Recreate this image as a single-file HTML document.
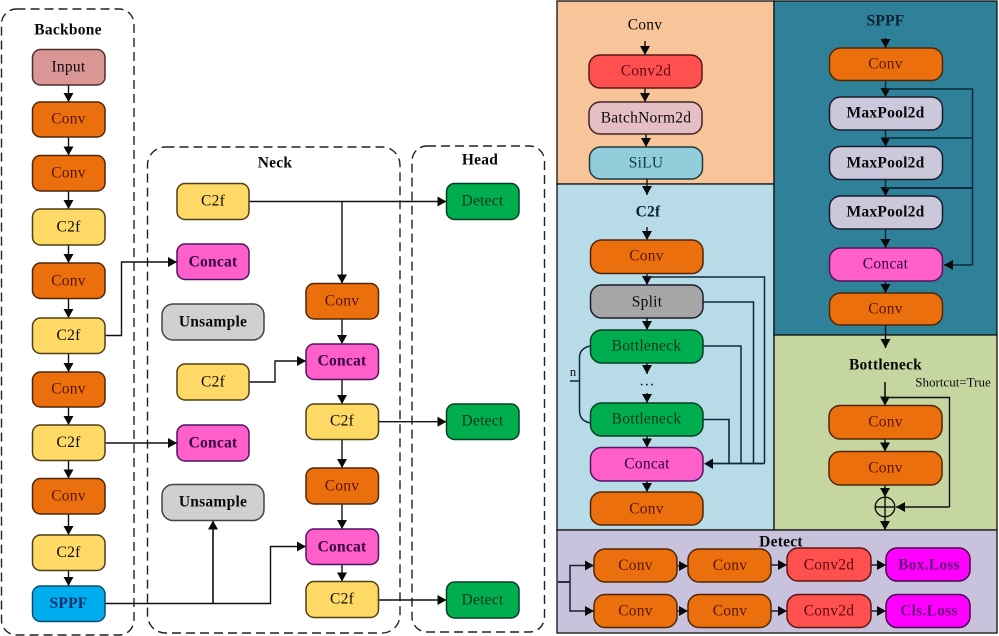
<!DOCTYPE html>
<html><head><meta charset="utf-8"><style>
html,body{margin:0;padding:0;background:#fff;width:999px;height:636px;overflow:hidden}
svg{display:block}
text{font-family:"Liberation Serif",serif;font-size:15.5px;letter-spacing:.25px;text-anchor:middle;dominant-baseline:central;fill:#0a0a0a}
.b{font-weight:bold}
.box{stroke-width:1.5}
.o{fill:#EC6F0E;stroke:#4f2606}.y{fill:#FFD966;stroke:#4f3f14}.p{fill:#FF5FCB;stroke:#4f1460}.g{fill:#D0D0D0;stroke:#444}
.gr{fill:#00AD4F;stroke:#053f23}.r{fill:#FF5050;stroke:#5c1616}.m{fill:#CCC8DC;stroke:#1b1b2b}.mg{fill:#FF00FF;stroke:#470050}
.to{fill:#5a1400}.tp{fill:#35003e}.tg{fill:#033619}.tr{fill:#620810}
.d{fill:none;stroke:#222;stroke-width:1.4;stroke-dasharray:9 5}
.l{fill:none;stroke:#111;stroke-width:1.4}
.a{marker-end:url(#ar)}
.dk{fill:none;stroke:#0c2a3c;stroke-width:1.5}
</style></head><body>
<svg width="999" height="636" viewBox="0 0 999 636" xmlns="http://www.w3.org/2000/svg">
<defs><marker id="ar" markerUnits="userSpaceOnUse" markerWidth="10" markerHeight="11" refX="9" refY="5" orient="auto"><path d="M0 0L9 5L0 10Z" fill="#0a0a0a"/></marker></defs>

<!-- dashed groups -->
<rect class="d" x="1.5" y="9" width="132.5" height="626" rx="15"/>
<rect class="d" x="147.5" y="147" width="252.5" height="486" rx="18"/>
<rect class="d" x="412" y="146" width="132.5" height="486" rx="15"/>

<!-- left connectors -->
<g class="l">
<path class="a" d="M68.5 85V102"/><path class="a" d="M68.5 137V155.5"/><path class="a" d="M68.5 191V209"/><path class="a" d="M68.5 245V263"/><path class="a" d="M68.5 298.500V318"/><path class="a" d="M68.5 353.500V372"/><path class="a" d="M68.500 407V425"/><path class="a" d="M68.500 460.500V478.500"/><path class="a" d="M68.500 514V535"/><path class="a" d="M68.500 570.500V586"/>
<path class="a" d="M105 335.500H121.500V262H177"/><path class="a" d="M105 443H177"/>
<path class="a" d="M105 603.500H270.500V546.500H306"/><path class="a" d="M213 603.500V520.500" stroke-width="1.6"/>
<path class="a" d="M249 201.500H446.500"/><path class="a" d="M342 201.500V283.500"/>
<path class="a" d="M342 319V344"/><path class="a" d="M249 382H275V361H306"/>
<path class="a" d="M342 379.500V404"/><path class="a" d="M378.500 421.700H446.500"/>
<path class="a" d="M342 439.500V468"/><path class="a" d="M342 504V529"/><path class="a" d="M342 564.500V581.500"/>
<path class="a" d="M378.500 600H446.500"/>
</g>

<!-- backbone nodes -->
<g class="box">
<rect x="32.500" y="49.500" width="72.500" height="35.500" rx="8" fill="#D99694" stroke="#4f2d2b"/>
<rect class="o" x="32.500" y="102" width="72.500" height="35" rx="8"/>
<rect class="o" x="32.500" y="155.500" width="72.500" height="35.500" rx="8"/>
<rect class="y" x="32.500" y="209" width="72.500" height="36" rx="8"/>
<rect class="o" x="32.500" y="263" width="72.500" height="35.500" rx="8"/>
<rect class="y" x="32.500" y="318" width="72.500" height="35.500" rx="8"/>
<rect class="o" x="32.500" y="372" width="72.500" height="35" rx="8"/>
<rect class="y" x="32.500" y="425" width="72.500" height="35.500" rx="8"/>
<rect class="o" x="32.500" y="478.500" width="72.500" height="35.500" rx="8"/>
<rect class="y" x="32.500" y="535" width="72.500" height="35.500" rx="8"/>
<rect x="32.500" y="586" width="72.500" height="35.500" rx="8" fill="#00AEEF" stroke="#0a4d73"/>
<!-- neck -->
<rect class="y" x="177" y="183.500" width="72" height="36" rx="8"/>
<rect class="p" x="177" y="244" width="72" height="35.500" rx="8"/>
<rect class="g" x="162" y="304" width="102" height="36" rx="11"/>
<rect class="y" x="177" y="364" width="72" height="36" rx="8"/>
<rect class="p" x="177" y="425" width="72" height="36" rx="8"/>
<rect class="g" x="162" y="484.500" width="102" height="36" rx="11"/>
<rect class="o" x="306" y="283.500" width="72.500" height="35.500" rx="8"/>
<rect class="p" x="306" y="344" width="72.500" height="35.500" rx="8"/>
<rect class="y" x="306" y="404" width="72.500" height="35.500" rx="8"/>
<rect class="o" x="306" y="468" width="72.500" height="36" rx="8"/>
<rect class="p" x="306" y="529" width="72.500" height="35.500" rx="8"/>
<rect class="y" x="306" y="581.500" width="72.500" height="36" rx="8"/>
<!-- head -->
<rect class="gr" x="446.500" y="183.500" width="72.500" height="36" rx="8"/>
<rect class="gr" x="446.500" y="404" width="72.500" height="35.500" rx="8"/>
<rect class="gr" x="446.500" y="582" width="72.500" height="36" rx="8"/>
</g>

<text class="b" x="68" y="30">Backbone</text>
<text x="68.500" y="67">Input</text>
<text class="to" x="68.500" y="119">Conv</text>
<text class="to" x="68.500" y="173">Conv</text>
<text x="68.500" y="227">C2f</text>
<text class="to" x="68.500" y="281">Conv</text>
<text x="68.500" y="335.500">C2f</text>
<text class="to" x="68.500" y="389">Conv</text>
<text x="68.500" y="442.500">C2f</text>
<text class="to" x="68.500" y="496">Conv</text>
<text x="68.500" y="552.500">C2f</text>
<text class="b" x="68.500" y="603.500" style="fill:#0a2f6b">SPPF</text>

<text class="b" x="275" y="163">Neck</text>
<text x="213" y="201">C2f</text>
<text class="b tp" x="213" y="262">Concat</text>
<text class="b" x="213" y="322">Unsample</text>
<text x="213" y="382">C2f</text>
<text class="b tp" x="213" y="443">Concat</text>
<text class="b" x="213" y="502">Unsample</text>
<text class="to" x="342" y="301">Conv</text>
<text class="b tp" x="342" y="361">Concat</text>
<text x="342" y="421">C2f</text>
<text class="to" x="342" y="486">Conv</text>
<text class="b tp" x="342" y="547">Concat</text>
<text x="342" y="599">C2f</text>

<text class="b" x="480" y="160">Head</text>
<text class="tg" x="482.500" y="201">Detect</text>
<text class="tg" x="482.500" y="421">Detect</text>
<text class="tg" x="482.500" y="600">Detect</text>

<!-- right panels -->
<g stroke="#111" stroke-width="1.3">
<rect x="557" y="1" width="217" height="183" fill="#F8C49A"/>
<rect x="557" y="184" width="217" height="346" fill="#B8DBE8"/>
<rect x="774" y="1" width="223" height="334" fill="#2E8198"/>
<rect x="774" y="335" width="223" height="195" fill="#C5D6A0"/>
<rect x="557" y="530" width="440" height="103" fill="#C9C2DC"/>
</g>

<!-- Conv/C2f connectors -->
<g class="l">
<path class="a" d="M645 41V55"/><path class="a" d="M645 88V102"/><path class="a" d="M646 134V147"/><path class="a" d="M647 179V195"/>
<path class="a" d="M647 227V240"/><path class="a" d="M647 273.500V285"/><path class="a" d="M647 318V330"/><path class="a" d="M647 363V374"/><path class="a" d="M647 393V403"/><path class="a" d="M647 436V447.500"/><path class="a" d="M647 481V492"/>
</g>
<g class="dk">
<path d="M647 277H764.500V463.500"/><path d="M703 302H753.500V463.500"/><path d="M703 346H741V463.500"/><path d="M703 419.500H729V463.500" stroke-width="1.6"/>
<path d="M764.500 463.500H710" stroke-width="1.8"/>
<path d="M590 346C582 348 579.500 352 579.500 358V410C579.500 417 582 421 590 423"/>
<path d="M570 381H579.500"/>
</g>
<path d="M704 463.700L713 458.500V469Z" fill="#0a0a1a"/>

<g class="box">
<rect class="r" x="589" y="55" width="113" height="33" rx="11"/>
<rect x="589" y="102" width="113" height="32" rx="11" fill="#E6BFC4" stroke="#3f2428"/>
<rect x="589.500" y="147" width="113" height="32" rx="11" fill="#92CDDC" stroke="#1e3a3a"/>
<rect class="o" x="590.500" y="240" width="112.500" height="33.500" rx="11"/>
<rect x="590.500" y="285" width="112.500" height="33" rx="11" fill="#A6A6A6" stroke="#1b1b2b"/>
<rect class="gr" x="590.500" y="330" width="112.500" height="33" rx="11"/>
<rect class="gr" x="590.500" y="403" width="112.500" height="33" rx="11"/>
<rect class="p" x="590.500" y="447.500" width="112.500" height="33.500" rx="11"/>
<rect class="o" x="590.500" y="492" width="112.500" height="33" rx="11"/>
</g>
<text x="645" y="25">Conv</text>
<text class="tr" x="646" y="71">Conv2d</text>
<text x="646" y="118">BatchNorm2d</text>
<text x="646" y="163" style="fill:#0d3a4a">SiLU</text>
<text class="b" x="648" y="212" style="fill:#0b2233">C2f</text>
<text class="to" x="646.500" y="256">Conv</text>
<text x="647" y="302">Split</text>
<text class="tg" x="646.500" y="346">Bottleneck</text>
<text x="647" y="381" style="fill:#0b2233">…</text>
<text class="tg" x="646.500" y="419">Bottleneck</text>
<text class="tp" x="647" y="464">Concat</text>
<text class="to" x="646.500" y="509">Conv</text>
<text x="573" y="372" style="font-size:12.5px;letter-spacing:0">n</text>

<!-- SPPF connectors -->
<g class="dk">
<path class="a" d="M885.500 38V48" style="stroke:#111"/>
<path class="a" d="M885.500 80.500V97"/><path class="a" d="M885.500 130V146.500"/><path class="a" d="M885.500 179.500V196"/><path class="a" d="M885.500 229V248"/><path class="a" d="M885.500 281V293"/>
<path d="M885.500 89H972.500V265"/><path d="M885.500 138H972.500"/><path d="M885.500 188H972.500" stroke-width="2"/>
<path class="a" d="M972.500 265H944"/>
<path class="a" d="M885.500 325V348" style="stroke:#111"/>
</g>
<g class="box">
<rect class="o" x="829.500" y="48" width="113" height="32.500" rx="11"/>
<rect class="m" x="829.500" y="97" width="113" height="33" rx="11"/>
<rect class="m" x="829.500" y="146.500" width="113" height="33" rx="11"/>
<rect class="m" x="829.500" y="196" width="113" height="33" rx="11"/>
<rect class="p" x="829.500" y="248" width="113" height="33" rx="11"/>
<rect class="o" x="829.500" y="293" width="113" height="32" rx="11"/>
</g>
<text class="b" x="885.500" y="21" style="fill:#0b2233">SPPF</text>
<text class="to" x="885.500" y="64">Conv</text>
<text class="b" x="885.500" y="113">MaxPool2d</text>
<text class="b" x="885.500" y="163">MaxPool2d</text>
<text class="b" x="885.500" y="212">MaxPool2d</text>
<text class="tp" x="885.500" y="264">Concat</text>
<text class="to" x="885.500" y="309">Conv</text>

<!-- Bottleneck -->
<g class="l">
<path class="a" d="M885 382V405.500" stroke-width="1.6"/>
<path d="M885 397.500H949.500V507"/><path class="a" d="M949.500 507H896"/>
<path class="a" d="M885 439V451.500"/><path class="a" d="M885 485V497"/>
<circle cx="885" cy="507" r="9.800"/><path d="M875 507H895M885 497V517"/>
<path class="a" d="M885 517V530"/>
</g>
<g class="box">
<rect class="o" x="829" y="405.500" width="113" height="33.500" rx="11"/>
<rect class="o" x="829" y="451.500" width="113" height="33.500" rx="11"/>
</g>
<text class="b" x="885.500" y="365">Bottleneck</text>
<text x="953" y="382" style="font-size:13px;letter-spacing:0">Shortcut=True</text>
<text class="to" x="885.500" y="422">Conv</text>
<text class="to" x="885.500" y="468">Conv</text>

<!-- Detect -->
<g class="dk" style="stroke:#1c1c38">
<path d="M558 582H570" stroke-width="1.800"/>
<path class="a" d="M570 582V565.500H594"/><path class="a" d="M570 582V611H594"/>
<path class="a" d="M677 566H688"/><path class="a" d="M771 565H787"/><path class="a" d="M871 565H886"/>
<path class="a" d="M677 611H688"/><path class="a" d="M771 611H787"/><path class="a" d="M871 611H886"/>
</g>
<g class="box">
<rect class="o" x="594" y="549" width="83" height="33" rx="11"/>
<rect class="o" x="688" y="549" width="83" height="33" rx="11"/>
<rect class="r" x="787" y="548" width="84" height="33" rx="11"/>
<rect class="mg" x="886" y="548" width="84" height="33" rx="11"/>
<rect class="o" x="594" y="594.500" width="83" height="33" rx="11"/>
<rect class="o" x="688" y="594.500" width="83" height="33" rx="11"/>
<rect class="r" x="787" y="594.500" width="84" height="33" rx="11"/>
<rect class="mg" x="886" y="594.500" width="84" height="33" rx="11"/>
</g>
<text class="b" x="781" y="542">Detect</text>
<text class="to" x="635.500" y="565.500">Conv</text>
<text class="to" x="730" y="565.500">Conv</text>
<text class="tr" x="829" y="565">Conv2d</text>
<text class="b" x="929" y="565" style="fill:#6a0a7c">Box.Loss</text>
<text class="to" x="635.500" y="611">Conv</text>
<text class="to" x="730" y="611">Conv</text>
<text class="tr" x="829" y="611">Conv2d</text>
<text class="b" x="929" y="611" style="fill:#6a0a7c">Cls.Loss</text>
</svg>
</body></html>
